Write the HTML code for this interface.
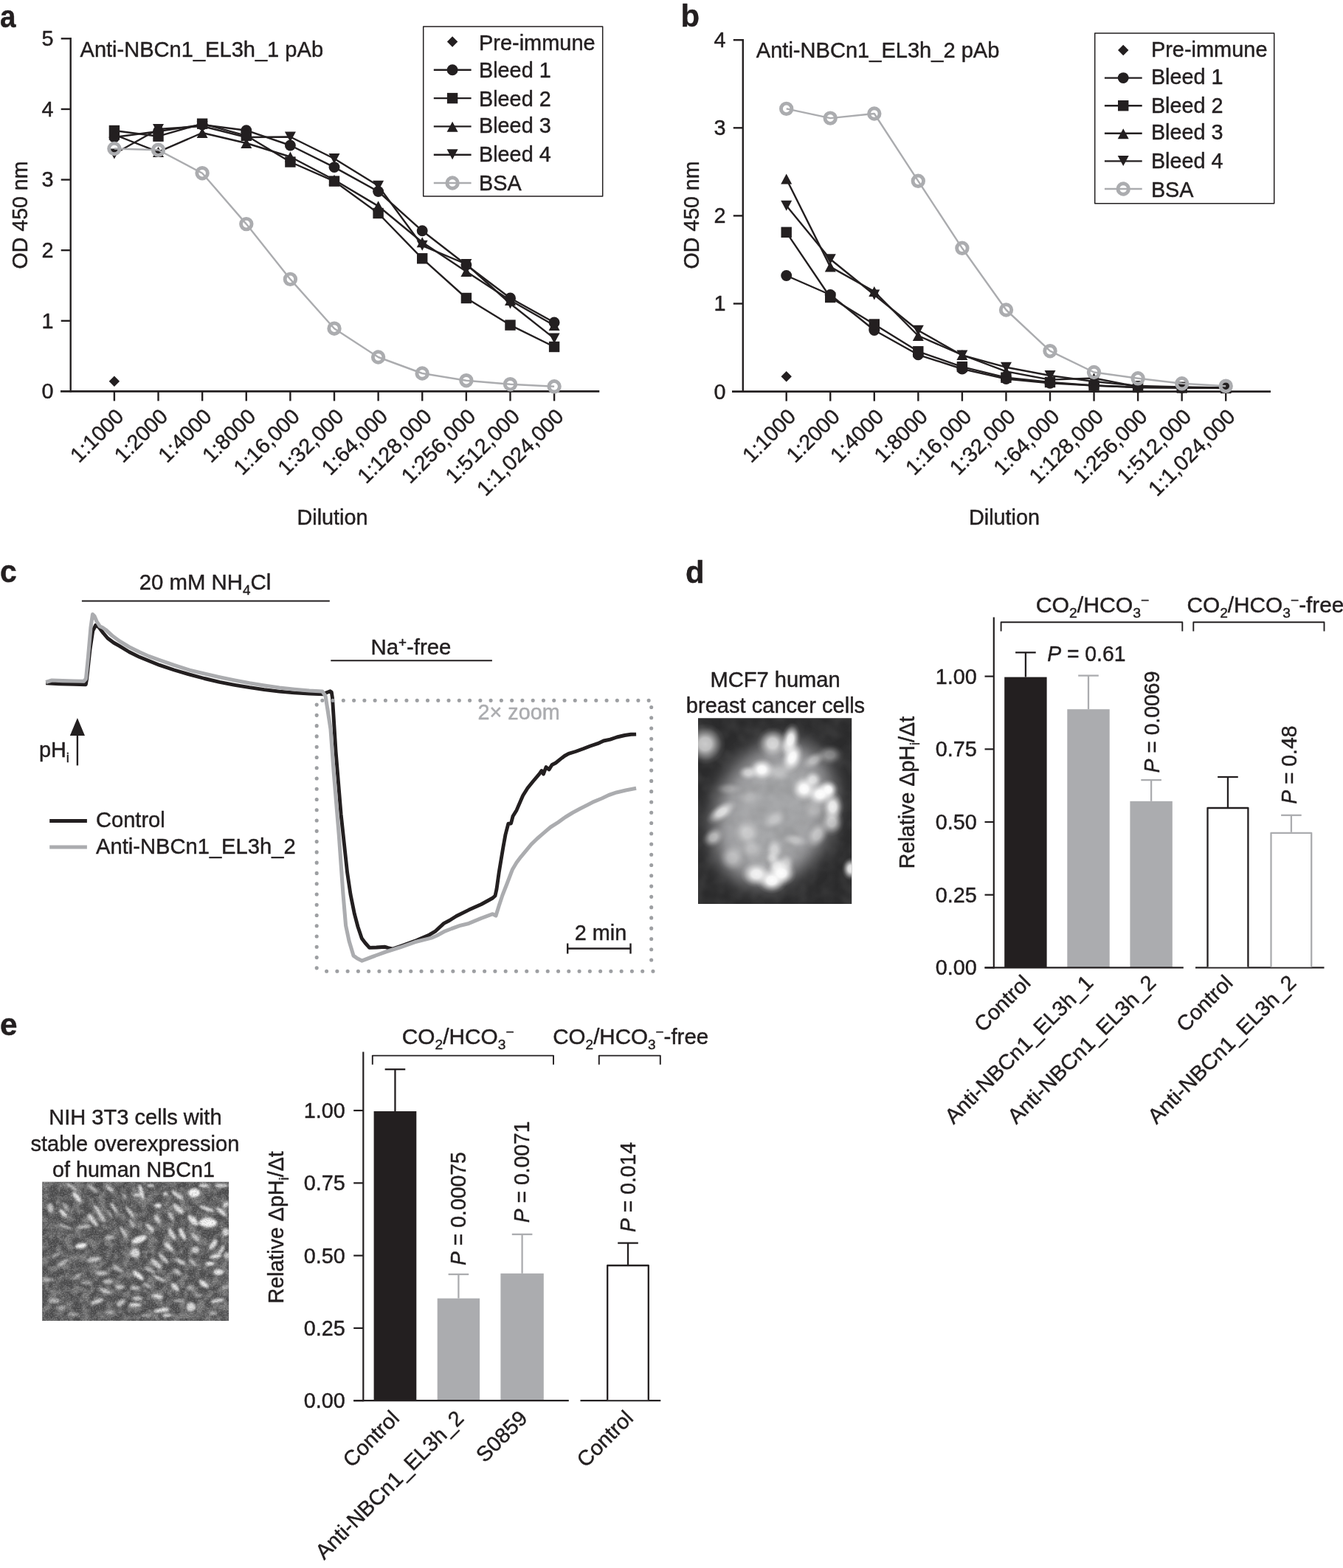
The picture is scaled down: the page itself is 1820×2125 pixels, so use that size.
<!DOCTYPE html>
<html lang="en"><head><meta charset="utf-8"><title>Figure</title>
<style>html,body{margin:0;padding:0;background:#fff}svg{display:block}</style></head>
<body>
<svg width="1820" height="2125" viewBox="0 0 1820 2125" font-family='"Liberation Sans", "DejaVu Sans", sans-serif' fill="#231f20" stroke-linejoin="round">
<style>text{stroke:#231f20;stroke-width:0.45px}</style>
<rect width="1820" height="2125" fill="#fff"/>
<text x="0.00" y="36.60" font-size="43.2" textLength="21.50" lengthAdjust="spacingAndGlyphs" font-weight="bold">a</text>
<text x="922.50" y="35.90" font-size="43.2" textLength="25.60" lengthAdjust="spacingAndGlyphs" font-weight="bold">b</text>
<text x="0.00" y="789.00" font-size="43.2" textLength="22.82" lengthAdjust="spacingAndGlyphs" font-weight="bold">c</text>
<text x="929.00" y="789.80" font-size="43.2" textLength="25.60" lengthAdjust="spacingAndGlyphs" font-weight="bold">d</text>
<text x="0.00" y="1403.00" font-size="43.2" textLength="23.55" lengthAdjust="spacingAndGlyphs" font-weight="bold">e</text>
<line x1="95.70" y1="51.10" x2="95.70" y2="531.60" stroke="#231f20" stroke-width="2.4" />
<line x1="82.00" y1="530.40" x2="812.30" y2="530.40" stroke="#231f20" stroke-width="2.6" />
<text x="72.50" y="540.30" font-size="28.8" text-anchor="end">0</text>
<line x1="82.70" y1="434.78" x2="95.70" y2="434.78" stroke="#231f20" stroke-width="2.4" />
<text x="72.50" y="444.68" font-size="28.8" text-anchor="end">1</text>
<line x1="82.70" y1="339.16" x2="95.70" y2="339.16" stroke="#231f20" stroke-width="2.4" />
<text x="72.50" y="349.06" font-size="28.8" text-anchor="end">2</text>
<line x1="82.70" y1="243.54" x2="95.70" y2="243.54" stroke="#231f20" stroke-width="2.4" />
<text x="72.50" y="253.44" font-size="28.8" text-anchor="end">3</text>
<line x1="82.70" y1="147.92" x2="95.70" y2="147.92" stroke="#231f20" stroke-width="2.4" />
<text x="72.50" y="157.82" font-size="28.8" text-anchor="end">4</text>
<line x1="82.70" y1="52.30" x2="95.70" y2="52.30" stroke="#231f20" stroke-width="2.4" />
<text x="72.50" y="62.20" font-size="28.8" text-anchor="end">5</text>
<line x1="154.90" y1="530.40" x2="154.90" y2="543.40" stroke="#231f20" stroke-width="2.4" />
<text x="169.40" y="566.10" font-size="28.8" text-anchor="end" transform="rotate(-45 169.40 566.10)" textLength="88.09" lengthAdjust="spacingAndGlyphs">1:1000</text>
<line x1="214.52" y1="530.40" x2="214.52" y2="543.40" stroke="#231f20" stroke-width="2.4" />
<text x="229.02" y="566.10" font-size="28.8" text-anchor="end" transform="rotate(-45 229.02 566.10)" textLength="88.09" lengthAdjust="spacingAndGlyphs">1:2000</text>
<line x1="274.14" y1="530.40" x2="274.14" y2="543.40" stroke="#231f20" stroke-width="2.4" />
<text x="288.64" y="566.10" font-size="28.8" text-anchor="end" transform="rotate(-45 288.64 566.10)" textLength="88.09" lengthAdjust="spacingAndGlyphs">1:4000</text>
<line x1="333.76" y1="530.40" x2="333.76" y2="543.40" stroke="#231f20" stroke-width="2.4" />
<text x="348.26" y="566.10" font-size="28.8" text-anchor="end" transform="rotate(-45 348.26 566.10)" textLength="88.09" lengthAdjust="spacingAndGlyphs">1:8000</text>
<line x1="393.38" y1="530.40" x2="393.38" y2="543.40" stroke="#231f20" stroke-width="2.4" />
<text x="407.88" y="566.10" font-size="28.8" text-anchor="end" transform="rotate(-45 407.88 566.10)" textLength="112.11" lengthAdjust="spacingAndGlyphs">1:16,000</text>
<line x1="453.00" y1="530.40" x2="453.00" y2="543.40" stroke="#231f20" stroke-width="2.4" />
<text x="467.50" y="566.10" font-size="28.8" text-anchor="end" transform="rotate(-45 467.50 566.10)" textLength="112.11" lengthAdjust="spacingAndGlyphs">1:32,000</text>
<line x1="512.62" y1="530.40" x2="512.62" y2="543.40" stroke="#231f20" stroke-width="2.4" />
<text x="527.12" y="566.10" font-size="28.8" text-anchor="end" transform="rotate(-45 527.12 566.10)" textLength="112.11" lengthAdjust="spacingAndGlyphs">1:64,000</text>
<line x1="572.24" y1="530.40" x2="572.24" y2="543.40" stroke="#231f20" stroke-width="2.4" />
<text x="586.74" y="566.10" font-size="28.8" text-anchor="end" transform="rotate(-45 586.74 566.10)" textLength="128.12" lengthAdjust="spacingAndGlyphs">1:128,000</text>
<line x1="631.86" y1="530.40" x2="631.86" y2="543.40" stroke="#231f20" stroke-width="2.4" />
<text x="646.36" y="566.10" font-size="28.8" text-anchor="end" transform="rotate(-45 646.36 566.10)" textLength="128.12" lengthAdjust="spacingAndGlyphs">1:256,000</text>
<line x1="691.48" y1="530.40" x2="691.48" y2="543.40" stroke="#231f20" stroke-width="2.4" />
<text x="705.98" y="566.10" font-size="28.8" text-anchor="end" transform="rotate(-45 705.98 566.10)" textLength="128.12" lengthAdjust="spacingAndGlyphs">1:512,000</text>
<line x1="751.10" y1="530.40" x2="751.10" y2="543.40" stroke="#231f20" stroke-width="2.4" />
<text x="765.60" y="566.10" font-size="28.8" text-anchor="end" transform="rotate(-45 765.60 566.10)" textLength="152.14" lengthAdjust="spacingAndGlyphs">1:1,024,000</text>
<text x="108.50" y="76.80" font-size="28.8" textLength="329.56" lengthAdjust="spacingAndGlyphs">Anti-NBCn1_EL3h_1 pAb</text>
<text x="37.30" y="291.50" font-size="28.8" text-anchor="middle" transform="rotate(-90 37.30 291.50)" textLength="146.00" lengthAdjust="spacingAndGlyphs">OD 450 nm</text>
<text x="450.50" y="711.00" font-size="28.8" text-anchor="middle" textLength="96.05" lengthAdjust="spacingAndGlyphs">Dilution</text>
<polygon points="154.9,509.5 162.1,516.7 154.9,523.9 147.7,516.7" fill="#231f20"/>
<polyline points="154.9,186.0 214.5,178.0 274.1,169.0 333.8,176.7 393.4,197.0 453.0,226.6 512.6,259.5 572.2,312.8 631.9,359.0 691.5,404.0 751.1,437.0" fill="none" stroke="#231f20" stroke-width="2.4" stroke-linejoin="round"/>
<circle cx="154.9" cy="186.0" r="7.45" fill="#231f20"/>
<circle cx="214.5" cy="178.0" r="7.45" fill="#231f20"/>
<circle cx="274.1" cy="169.0" r="7.45" fill="#231f20"/>
<circle cx="333.8" cy="176.7" r="7.45" fill="#231f20"/>
<circle cx="393.4" cy="197.0" r="7.45" fill="#231f20"/>
<circle cx="453.0" cy="226.6" r="7.45" fill="#231f20"/>
<circle cx="512.6" cy="259.5" r="7.45" fill="#231f20"/>
<circle cx="572.2" cy="312.8" r="7.45" fill="#231f20"/>
<circle cx="631.9" cy="359.0" r="7.45" fill="#231f20"/>
<circle cx="691.5" cy="404.0" r="7.45" fill="#231f20"/>
<circle cx="751.1" cy="437.0" r="7.45" fill="#231f20"/>
<polyline points="154.9,177.0 214.5,184.7 274.1,167.7 333.8,183.8 393.4,219.5 453.0,245.6 512.6,289.0 572.2,350.3 631.9,404.0 691.5,440.6 751.1,470.0" fill="none" stroke="#231f20" stroke-width="2.4" stroke-linejoin="round"/>
<rect x="147.7" y="169.8" width="14.4" height="14.4" fill="#231f20"/>
<rect x="207.3" y="177.5" width="14.4" height="14.4" fill="#231f20"/>
<rect x="266.9" y="160.5" width="14.4" height="14.4" fill="#231f20"/>
<rect x="326.6" y="176.6" width="14.4" height="14.4" fill="#231f20"/>
<rect x="386.2" y="212.3" width="14.4" height="14.4" fill="#231f20"/>
<rect x="445.8" y="238.4" width="14.4" height="14.4" fill="#231f20"/>
<rect x="505.4" y="281.8" width="14.4" height="14.4" fill="#231f20"/>
<rect x="565.0" y="343.1" width="14.4" height="14.4" fill="#231f20"/>
<rect x="624.7" y="396.8" width="14.4" height="14.4" fill="#231f20"/>
<rect x="684.3" y="433.4" width="14.4" height="14.4" fill="#231f20"/>
<rect x="743.9" y="462.8" width="14.4" height="14.4" fill="#231f20"/>
<polyline points="154.9,182.5 214.5,205.9 274.1,180.0 333.8,194.0 393.4,212.5 453.0,243.8 512.6,279.3 572.2,328.2 631.9,368.0 691.5,407.0 751.1,441.0" fill="none" stroke="#231f20" stroke-width="2.4" stroke-linejoin="round"/>
<polygon points="154.9,175.5 162.4,189.5 147.4,189.5" fill="#231f20"/>
<polygon points="214.5,198.9 222.0,212.9 207.0,212.9" fill="#231f20"/>
<polygon points="274.1,173.0 281.6,187.0 266.6,187.0" fill="#231f20"/>
<polygon points="333.8,187.0 341.3,201.0 326.3,201.0" fill="#231f20"/>
<polygon points="393.4,205.5 400.9,219.5 385.9,219.5" fill="#231f20"/>
<polygon points="453.0,236.8 460.5,250.8 445.5,250.8" fill="#231f20"/>
<polygon points="512.6,272.3 520.1,286.3 505.1,286.3" fill="#231f20"/>
<polygon points="572.2,321.2 579.7,335.2 564.7,335.2" fill="#231f20"/>
<polygon points="631.9,361.0 639.4,375.0 624.4,375.0" fill="#231f20"/>
<polygon points="691.5,400.0 699.0,414.0 684.0,414.0" fill="#231f20"/>
<polygon points="751.1,434.0 758.6,448.0 743.6,448.0" fill="#231f20"/>
<polyline points="154.9,208.5 214.5,175.0 274.1,171.0 333.8,186.0 393.4,185.5 453.0,215.0 512.6,251.8 572.2,332.8 631.9,358.0 691.5,411.5 751.1,458.6" fill="none" stroke="#231f20" stroke-width="2.4" stroke-linejoin="round"/>
<polygon points="154.9,215.5 162.4,201.5 147.4,201.5" fill="#231f20"/>
<polygon points="214.5,182.0 222.0,168.0 207.0,168.0" fill="#231f20"/>
<polygon points="274.1,178.0 281.6,164.0 266.6,164.0" fill="#231f20"/>
<polygon points="333.8,193.0 341.3,179.0 326.3,179.0" fill="#231f20"/>
<polygon points="393.4,192.5 400.9,178.5 385.9,178.5" fill="#231f20"/>
<polygon points="453.0,222.0 460.5,208.0 445.5,208.0" fill="#231f20"/>
<polygon points="512.6,258.8 520.1,244.8 505.1,244.8" fill="#231f20"/>
<polygon points="572.2,339.8 579.7,325.8 564.7,325.8" fill="#231f20"/>
<polygon points="631.9,365.0 639.4,351.0 624.4,351.0" fill="#231f20"/>
<polygon points="691.5,418.5 699.0,404.5 684.0,404.5" fill="#231f20"/>
<polygon points="751.1,465.6 758.6,451.6 743.6,451.6" fill="#231f20"/>
<polyline points="154.9,201.5 214.5,203.2 274.1,234.7 333.8,303.6 393.4,378.4 453.0,445.2 512.6,484.0 572.2,506.0 631.9,515.7 691.5,520.7 751.1,523.8" fill="none" stroke="#abacaf" stroke-width="2.4" stroke-linejoin="round"/>
<circle cx="154.9" cy="201.5" r="7.25" fill="none" stroke="#abacaf" stroke-width="4.9"/>
<circle cx="214.5" cy="203.2" r="7.25" fill="none" stroke="#abacaf" stroke-width="4.9"/>
<circle cx="274.1" cy="234.7" r="7.25" fill="none" stroke="#abacaf" stroke-width="4.9"/>
<circle cx="333.8" cy="303.6" r="7.25" fill="none" stroke="#abacaf" stroke-width="4.9"/>
<circle cx="393.4" cy="378.4" r="7.25" fill="none" stroke="#abacaf" stroke-width="4.9"/>
<circle cx="453.0" cy="445.2" r="7.25" fill="none" stroke="#abacaf" stroke-width="4.9"/>
<circle cx="512.6" cy="484.0" r="7.25" fill="none" stroke="#abacaf" stroke-width="4.9"/>
<circle cx="572.2" cy="506.0" r="7.25" fill="none" stroke="#abacaf" stroke-width="4.9"/>
<circle cx="631.9" cy="515.7" r="7.25" fill="none" stroke="#abacaf" stroke-width="4.9"/>
<circle cx="691.5" cy="520.7" r="7.25" fill="none" stroke="#abacaf" stroke-width="4.9"/>
<circle cx="751.1" cy="523.8" r="7.25" fill="none" stroke="#abacaf" stroke-width="4.9"/>
<rect x="573.70" y="35.90" width="243.00" height="230.20" fill="none" stroke="#231f20" stroke-width="1.5"/>
<polygon points="613.1,49.3 620.3,56.5 613.1,63.7 605.9,56.5" fill="#231f20"/>
<text x="649.00" y="67.90" font-size="28.8" textLength="157.62" lengthAdjust="spacingAndGlyphs">Pre-immune</text>
<line x1="587.80" y1="94.80" x2="638.60" y2="94.80" stroke="#231f20" stroke-width="2.4" />
<circle cx="613.1" cy="94.8" r="7.45" fill="#231f20"/>
<text x="649.00" y="104.70" font-size="28.8" textLength="97.68" lengthAdjust="spacingAndGlyphs">Bleed 1</text>
<line x1="587.80" y1="133.10" x2="638.60" y2="133.10" stroke="#231f20" stroke-width="2.4" />
<rect x="605.9" y="125.9" width="14.4" height="14.4" fill="#231f20"/>
<text x="649.00" y="143.50" font-size="28.8" textLength="97.68" lengthAdjust="spacingAndGlyphs">Bleed 2</text>
<line x1="587.80" y1="171.40" x2="638.60" y2="171.40" stroke="#231f20" stroke-width="2.4" />
<polygon points="613.1,164.8 620.6,178.8 605.6,178.8" fill="#231f20"/>
<text x="649.00" y="179.70" font-size="28.8" textLength="97.68" lengthAdjust="spacingAndGlyphs">Bleed 3</text>
<line x1="587.80" y1="209.70" x2="638.60" y2="209.70" stroke="#231f20" stroke-width="2.4" />
<polygon points="613.1,216.3 620.6,202.3 605.6,202.3" fill="#231f20"/>
<text x="649.00" y="218.50" font-size="28.8" textLength="97.68" lengthAdjust="spacingAndGlyphs">Bleed 4</text>
<line x1="587.80" y1="248.00" x2="638.60" y2="248.00" stroke="#abacaf" stroke-width="2.4" />
<circle cx="613.1" cy="248.0" r="7.25" fill="none" stroke="#abacaf" stroke-width="4.9"/>
<text x="649.00" y="257.60" font-size="28.8" textLength="57.63" lengthAdjust="spacingAndGlyphs">BSA</text>
<line x1="1006.80" y1="53.00" x2="1006.80" y2="531.80" stroke="#231f20" stroke-width="2.4" />
<line x1="992.00" y1="530.60" x2="1722.00" y2="530.60" stroke="#231f20" stroke-width="2.6" />
<text x="983.60" y="540.50" font-size="28.8" text-anchor="end">0</text>
<line x1="993.80" y1="411.50" x2="1006.80" y2="411.50" stroke="#231f20" stroke-width="2.4" />
<text x="983.60" y="421.40" font-size="28.8" text-anchor="end">1</text>
<line x1="993.80" y1="292.40" x2="1006.80" y2="292.40" stroke="#231f20" stroke-width="2.4" />
<text x="983.60" y="302.30" font-size="28.8" text-anchor="end">2</text>
<line x1="993.80" y1="173.30" x2="1006.80" y2="173.30" stroke="#231f20" stroke-width="2.4" />
<text x="983.60" y="183.20" font-size="28.8" text-anchor="end">3</text>
<line x1="993.80" y1="54.20" x2="1006.80" y2="54.20" stroke="#231f20" stroke-width="2.4" />
<text x="983.60" y="64.10" font-size="28.8" text-anchor="end">4</text>
<line x1="1065.70" y1="530.60" x2="1065.70" y2="543.60" stroke="#231f20" stroke-width="2.4" />
<text x="1080.20" y="566.30" font-size="28.8" text-anchor="end" transform="rotate(-45 1080.20 566.30)" textLength="88.09" lengthAdjust="spacingAndGlyphs">1:1000</text>
<line x1="1125.25" y1="530.60" x2="1125.25" y2="543.60" stroke="#231f20" stroke-width="2.4" />
<text x="1139.75" y="566.30" font-size="28.8" text-anchor="end" transform="rotate(-45 1139.75 566.30)" textLength="88.09" lengthAdjust="spacingAndGlyphs">1:2000</text>
<line x1="1184.80" y1="530.60" x2="1184.80" y2="543.60" stroke="#231f20" stroke-width="2.4" />
<text x="1199.30" y="566.30" font-size="28.8" text-anchor="end" transform="rotate(-45 1199.30 566.30)" textLength="88.09" lengthAdjust="spacingAndGlyphs">1:4000</text>
<line x1="1244.35" y1="530.60" x2="1244.35" y2="543.60" stroke="#231f20" stroke-width="2.4" />
<text x="1258.85" y="566.30" font-size="28.8" text-anchor="end" transform="rotate(-45 1258.85 566.30)" textLength="88.09" lengthAdjust="spacingAndGlyphs">1:8000</text>
<line x1="1303.90" y1="530.60" x2="1303.90" y2="543.60" stroke="#231f20" stroke-width="2.4" />
<text x="1318.40" y="566.30" font-size="28.8" text-anchor="end" transform="rotate(-45 1318.40 566.30)" textLength="112.11" lengthAdjust="spacingAndGlyphs">1:16,000</text>
<line x1="1363.45" y1="530.60" x2="1363.45" y2="543.60" stroke="#231f20" stroke-width="2.4" />
<text x="1377.95" y="566.30" font-size="28.8" text-anchor="end" transform="rotate(-45 1377.95 566.30)" textLength="112.11" lengthAdjust="spacingAndGlyphs">1:32,000</text>
<line x1="1423.00" y1="530.60" x2="1423.00" y2="543.60" stroke="#231f20" stroke-width="2.4" />
<text x="1437.50" y="566.30" font-size="28.8" text-anchor="end" transform="rotate(-45 1437.50 566.30)" textLength="112.11" lengthAdjust="spacingAndGlyphs">1:64,000</text>
<line x1="1482.55" y1="530.60" x2="1482.55" y2="543.60" stroke="#231f20" stroke-width="2.4" />
<text x="1497.05" y="566.30" font-size="28.8" text-anchor="end" transform="rotate(-45 1497.05 566.30)" textLength="128.12" lengthAdjust="spacingAndGlyphs">1:128,000</text>
<line x1="1542.10" y1="530.60" x2="1542.10" y2="543.60" stroke="#231f20" stroke-width="2.4" />
<text x="1556.60" y="566.30" font-size="28.8" text-anchor="end" transform="rotate(-45 1556.60 566.30)" textLength="128.12" lengthAdjust="spacingAndGlyphs">1:256,000</text>
<line x1="1601.65" y1="530.60" x2="1601.65" y2="543.60" stroke="#231f20" stroke-width="2.4" />
<text x="1616.15" y="566.30" font-size="28.8" text-anchor="end" transform="rotate(-45 1616.15 566.30)" textLength="128.12" lengthAdjust="spacingAndGlyphs">1:512,000</text>
<line x1="1661.20" y1="530.60" x2="1661.20" y2="543.60" stroke="#231f20" stroke-width="2.4" />
<text x="1675.70" y="566.30" font-size="28.8" text-anchor="end" transform="rotate(-45 1675.70 566.30)" textLength="152.14" lengthAdjust="spacingAndGlyphs">1:1,024,000</text>
<text x="1024.80" y="78.00" font-size="28.8" textLength="329.56" lengthAdjust="spacingAndGlyphs">Anti-NBCn1_EL3h_2 pAb</text>
<text x="947.30" y="291.50" font-size="28.8" text-anchor="middle" transform="rotate(-90 947.30 291.50)" textLength="146.00" lengthAdjust="spacingAndGlyphs">OD 450 nm</text>
<text x="1361.00" y="711.00" font-size="28.8" text-anchor="middle" textLength="96.05" lengthAdjust="spacingAndGlyphs">Dilution</text>
<polygon points="1065.7,503.0 1072.9,510.2 1065.7,517.4 1058.5,510.2" fill="#231f20"/>
<polyline points="1065.7,373.5 1125.2,399.5 1184.8,447.5 1244.3,480.8 1303.9,500.0 1363.5,513.5 1423.0,519.2 1482.5,522.5 1542.1,525.0 1601.7,525.5 1661.2,525.8" fill="none" stroke="#231f20" stroke-width="2.4" stroke-linejoin="round"/>
<circle cx="1065.7" cy="373.5" r="7.45" fill="#231f20"/>
<circle cx="1125.2" cy="399.5" r="7.45" fill="#231f20"/>
<circle cx="1184.8" cy="447.5" r="7.45" fill="#231f20"/>
<circle cx="1244.3" cy="480.8" r="7.45" fill="#231f20"/>
<circle cx="1303.9" cy="500.0" r="7.45" fill="#231f20"/>
<circle cx="1363.5" cy="513.5" r="7.45" fill="#231f20"/>
<circle cx="1423.0" cy="519.2" r="7.45" fill="#231f20"/>
<circle cx="1482.5" cy="522.5" r="7.45" fill="#231f20"/>
<circle cx="1542.1" cy="525.0" r="7.45" fill="#231f20"/>
<circle cx="1601.7" cy="525.5" r="7.45" fill="#231f20"/>
<circle cx="1661.2" cy="525.8" r="7.45" fill="#231f20"/>
<polyline points="1065.7,314.8 1125.2,403.0 1184.8,439.5 1244.3,476.3 1303.9,497.1 1363.5,511.7 1423.0,518.0 1482.5,522.5 1542.1,525.0 1601.7,525.5 1661.2,526.0" fill="none" stroke="#231f20" stroke-width="2.4" stroke-linejoin="round"/>
<rect x="1058.5" y="307.6" width="14.4" height="14.4" fill="#231f20"/>
<rect x="1118.0" y="395.8" width="14.4" height="14.4" fill="#231f20"/>
<rect x="1177.6" y="432.3" width="14.4" height="14.4" fill="#231f20"/>
<rect x="1237.1" y="469.1" width="14.4" height="14.4" fill="#231f20"/>
<rect x="1296.7" y="489.9" width="14.4" height="14.4" fill="#231f20"/>
<rect x="1356.2" y="504.5" width="14.4" height="14.4" fill="#231f20"/>
<rect x="1415.8" y="510.8" width="14.4" height="14.4" fill="#231f20"/>
<rect x="1475.3" y="515.3" width="14.4" height="14.4" fill="#231f20"/>
<rect x="1534.9" y="517.8" width="14.4" height="14.4" fill="#231f20"/>
<rect x="1594.5" y="518.3" width="14.4" height="14.4" fill="#231f20"/>
<rect x="1654.0" y="518.8" width="14.4" height="14.4" fill="#231f20"/>
<polyline points="1065.7,242.5 1125.2,361.6 1184.8,395.0 1244.3,455.0 1303.9,481.0 1363.5,503.4 1423.0,514.6 1482.5,512.5 1542.1,524.0 1601.7,525.0 1661.2,526.0" fill="none" stroke="#231f20" stroke-width="2.4" stroke-linejoin="round"/>
<polygon points="1065.7,235.5 1073.2,249.5 1058.2,249.5" fill="#231f20"/>
<polygon points="1125.2,354.6 1132.8,368.6 1117.8,368.6" fill="#231f20"/>
<polygon points="1184.8,388.0 1192.3,402.0 1177.3,402.0" fill="#231f20"/>
<polygon points="1244.3,448.0 1251.8,462.0 1236.8,462.0" fill="#231f20"/>
<polygon points="1303.9,474.0 1311.4,488.0 1296.4,488.0" fill="#231f20"/>
<polygon points="1363.5,496.4 1371.0,510.4 1356.0,510.4" fill="#231f20"/>
<polygon points="1423.0,507.6 1430.5,521.6 1415.5,521.6" fill="#231f20"/>
<polygon points="1482.5,505.5 1490.0,519.5 1475.0,519.5" fill="#231f20"/>
<polygon points="1542.1,517.0 1549.6,531.0 1534.6,531.0" fill="#231f20"/>
<polygon points="1601.7,518.0 1609.2,532.0 1594.2,532.0" fill="#231f20"/>
<polygon points="1661.2,519.0 1668.7,533.0 1653.7,533.0" fill="#231f20"/>
<polyline points="1065.7,278.7 1125.2,351.2 1184.8,399.5 1244.3,447.7 1303.9,481.5 1363.5,497.7 1423.0,509.0 1482.5,517.0 1542.1,523.0 1601.7,524.5 1661.2,525.5" fill="none" stroke="#231f20" stroke-width="2.4" stroke-linejoin="round"/>
<polygon points="1065.7,285.7 1073.2,271.7 1058.2,271.7" fill="#231f20"/>
<polygon points="1125.2,358.2 1132.8,344.2 1117.8,344.2" fill="#231f20"/>
<polygon points="1184.8,406.5 1192.3,392.5 1177.3,392.5" fill="#231f20"/>
<polygon points="1244.3,454.7 1251.8,440.7 1236.8,440.7" fill="#231f20"/>
<polygon points="1303.9,488.5 1311.4,474.5 1296.4,474.5" fill="#231f20"/>
<polygon points="1363.5,504.7 1371.0,490.7 1356.0,490.7" fill="#231f20"/>
<polygon points="1423.0,516.0 1430.5,502.0 1415.5,502.0" fill="#231f20"/>
<polygon points="1482.5,524.0 1490.0,510.0 1475.0,510.0" fill="#231f20"/>
<polygon points="1542.1,530.0 1549.6,516.0 1534.6,516.0" fill="#231f20"/>
<polygon points="1601.7,531.5 1609.2,517.5 1594.2,517.5" fill="#231f20"/>
<polygon points="1661.2,532.5 1668.7,518.5 1653.7,518.5" fill="#231f20"/>
<polyline points="1065.7,147.4 1125.2,160.1 1184.8,154.0 1244.3,245.3 1303.9,336.3 1363.5,420.0 1423.0,475.7 1482.5,504.5 1542.1,512.8 1601.7,519.8 1661.2,523.2" fill="none" stroke="#abacaf" stroke-width="2.4" stroke-linejoin="round"/>
<circle cx="1065.7" cy="147.4" r="7.25" fill="none" stroke="#abacaf" stroke-width="4.9"/>
<circle cx="1125.2" cy="160.1" r="7.25" fill="none" stroke="#abacaf" stroke-width="4.9"/>
<circle cx="1184.8" cy="154.0" r="7.25" fill="none" stroke="#abacaf" stroke-width="4.9"/>
<circle cx="1244.3" cy="245.3" r="7.25" fill="none" stroke="#abacaf" stroke-width="4.9"/>
<circle cx="1303.9" cy="336.3" r="7.25" fill="none" stroke="#abacaf" stroke-width="4.9"/>
<circle cx="1363.5" cy="420.0" r="7.25" fill="none" stroke="#abacaf" stroke-width="4.9"/>
<circle cx="1423.0" cy="475.7" r="7.25" fill="none" stroke="#abacaf" stroke-width="4.9"/>
<circle cx="1482.5" cy="504.5" r="7.25" fill="none" stroke="#abacaf" stroke-width="4.9"/>
<circle cx="1542.1" cy="512.8" r="7.25" fill="none" stroke="#abacaf" stroke-width="4.9"/>
<circle cx="1601.7" cy="519.8" r="7.25" fill="none" stroke="#abacaf" stroke-width="4.9"/>
<circle cx="1661.2" cy="523.2" r="7.25" fill="none" stroke="#abacaf" stroke-width="4.9"/>
<rect x="1483.70" y="45.10" width="243.00" height="230.70" fill="none" stroke="#231f20" stroke-width="1.5"/>
<polygon points="1522.2,60.8 1529.4,68.0 1522.2,75.2 1515.0,68.0" fill="#231f20"/>
<text x="1559.90" y="77.10" font-size="28.8" textLength="157.62" lengthAdjust="spacingAndGlyphs">Pre-immune</text>
<line x1="1496.90" y1="105.60" x2="1547.70" y2="105.60" stroke="#231f20" stroke-width="2.4" />
<circle cx="1522.2" cy="105.6" r="7.45" fill="#231f20"/>
<text x="1559.90" y="114.10" font-size="28.8" textLength="97.68" lengthAdjust="spacingAndGlyphs">Bleed 1</text>
<line x1="1496.90" y1="143.20" x2="1547.70" y2="143.20" stroke="#231f20" stroke-width="2.4" />
<rect x="1515.0" y="136.0" width="14.4" height="14.4" fill="#231f20"/>
<text x="1559.90" y="152.70" font-size="28.8" textLength="97.68" lengthAdjust="spacingAndGlyphs">Bleed 2</text>
<line x1="1496.90" y1="180.80" x2="1547.70" y2="180.80" stroke="#231f20" stroke-width="2.4" />
<polygon points="1522.2,174.2 1529.7,188.2 1514.7,188.2" fill="#231f20"/>
<text x="1559.90" y="188.90" font-size="28.8" textLength="97.68" lengthAdjust="spacingAndGlyphs">Bleed 3</text>
<line x1="1496.90" y1="218.40" x2="1547.70" y2="218.40" stroke="#231f20" stroke-width="2.4" />
<polygon points="1522.2,225.0 1529.7,211.0 1514.7,211.0" fill="#231f20"/>
<text x="1559.90" y="227.70" font-size="28.8" textLength="97.68" lengthAdjust="spacingAndGlyphs">Bleed 4</text>
<line x1="1496.90" y1="256.00" x2="1547.70" y2="256.00" stroke="#abacaf" stroke-width="2.4" />
<circle cx="1522.2" cy="256.0" r="7.25" fill="none" stroke="#abacaf" stroke-width="4.9"/>
<text x="1559.90" y="266.80" font-size="28.8" textLength="57.63" lengthAdjust="spacingAndGlyphs">BSA</text>
<text x="188.70" y="798.70" font-size="28.8" textLength="178.50" lengthAdjust="spacingAndGlyphs">20 mM NH<tspan font-size="18.5" dy="7">4</tspan><tspan dy="-7">Cl</tspan></text>
<line x1="110.90" y1="814.40" x2="446.80" y2="814.40" stroke="#231f20" stroke-width="2.0" />
<text x="502.50" y="886.80" font-size="28.8" textLength="108.90" lengthAdjust="spacingAndGlyphs">Na<tspan font-size="18.5" dy="-9.5">+</tspan><tspan dy="9.5">-free</tspan></text>
<line x1="448.30" y1="895.20" x2="666.90" y2="895.20" stroke="#231f20" stroke-width="2.0" />
<text x="647.50" y="975.40" font-size="28.8" fill="#abacaf" style="stroke:#abacaf" textLength="111.20" lengthAdjust="spacingAndGlyphs">2× zoom</text>
<text x="52.90" y="1026.30" font-size="28.8">pH<tspan font-size="18.5" dy="7">i</tspan></text>
<line x1="104.90" y1="1037.40" x2="104.90" y2="995.00" stroke="#231f20" stroke-width="2.4" />
<polygon points="104.9,973 115,997 94.8,997" fill="#231f20"/>
<line x1="67.20" y1="1112.40" x2="117.90" y2="1112.40" stroke="#231f20" stroke-width="5.0" />
<text x="130.00" y="1120.80" font-size="28.8" textLength="93.77" lengthAdjust="spacingAndGlyphs">Control</text>
<line x1="67.20" y1="1147.90" x2="117.90" y2="1147.90" stroke="#abacaf" stroke-width="5.0" />
<text x="130.00" y="1156.70" font-size="28.8" textLength="270.60" lengthAdjust="spacingAndGlyphs">Anti-NBCn1_EL3h_2</text>
<line x1="769.20" y1="1285.50" x2="854.50" y2="1285.50" stroke="#231f20" stroke-width="2.4" />
<line x1="769.20" y1="1278.50" x2="769.20" y2="1292.50" stroke="#231f20" stroke-width="2.4" />
<line x1="854.50" y1="1278.50" x2="854.50" y2="1292.50" stroke="#231f20" stroke-width="2.4" />
<text x="814.00" y="1274.00" font-size="28.8" text-anchor="middle" textLength="70.43" lengthAdjust="spacingAndGlyphs">2 min</text>
<polyline points="62.2,925.8 80.0,926.8 100.0,927.3 116.3,927.7 117.6,920.0 122.0,880.0 125.8,855.0 129.6,847.3 134.0,850.0 140.0,858.0 146.0,865.0 154.0,871.0 162.2,875.7 175.0,883.5 189.3,890.6 216.3,901.4 236.0,908.0 256.9,914.1 277.0,919.5 297.5,924.4 318.0,928.3 338.0,931.7 358.0,934.6 378.6,937.1 399.0,938.9 419.1,940.1 438.0,940.7 443.0,938.5 447.5,936.8 449.3,938.0 450.5,946.0 455.1,1019.0 462.1,1103.5 470.6,1182.4 475.0,1212.0 480.4,1238.7 485.0,1256.0 490.3,1271.7 495.0,1278.0 500.7,1284.4 510.0,1284.0 521.3,1283.2 526.0,1284.6 531.7,1286.0 545.0,1281.5 562.1,1275.4 581.8,1266.9 590.3,1261.8 601.5,1251.4 609.0,1247.5 618.5,1241.5 635.4,1233.1 652.3,1225.5 667.7,1217.0 671.0,1214.0 673.0,1205.0 676.2,1182.4 681.8,1148.6 685.0,1131.0 688.9,1116.2 692.5,1116.0 695.0,1106.3 700.1,1097.9 708.6,1078.2 715.0,1068.0 722.7,1058.5 731.1,1048.6 734.0,1044.5 736.5,1049.0 740.0,1039.5 744.0,1043.0 748.0,1036.5 753.0,1034.0 759.3,1028.9 765.0,1024.5 770.6,1021.3 780.0,1018.5 790.3,1014.8 800.0,1011.0 810.0,1007.7 818.0,1004.0 826.9,1002.1 836.0,999.0 846.6,996.5 855.0,995.3 862.1,995.1" fill="none" stroke="#231f20" stroke-width="4.9" stroke-linejoin="round"/>
<polyline points="62.2,924.5 70.3,922.0 85.0,922.6 100.0,923.0 113.6,923.2 116.5,920.0 119.5,890.0 123.0,850.0 125.5,832.5 128.0,835.0 131.0,842.0 135.2,848.7 139.0,850.5 143.3,853.5 152.0,861.5 162.2,869.0 175.0,876.8 189.3,883.9 202.0,889.5 216.3,894.7 236.0,901.5 256.9,908.2 277.0,913.0 297.5,917.7 318.0,922.0 338.0,925.8 358.0,929.0 378.6,932.0 399.0,934.2 419.1,936.0 436.8,937.0 441.0,943.0 444.0,962.0 448.0,988.0 452.3,1047.2 459.3,1131.7 464.9,1210.6 468.6,1254.2 473.0,1275.0 479.0,1295.1 484.0,1298.8 490.3,1302.1 505.0,1296.5 522.7,1290.0 542.4,1283.8 562.1,1276.8 584.6,1271.1 592.0,1268.0 601.5,1262.7 612.0,1258.5 624.1,1254.2 635.4,1251.4 652.3,1244.4 667.7,1238.7 672.0,1241.0 676.2,1227.5 681.0,1213.0 687.5,1196.5 694.5,1178.2 700.0,1169.0 705.8,1161.3 719.9,1144.4 728.0,1136.5 736.8,1128.9 746.0,1121.0 756.5,1114.4 766.0,1107.5 776.2,1101.3 786.0,1096.0 795.9,1091.0 805.0,1086.3 815.6,1082.0 825.0,1077.5 835.4,1073.9 848.0,1071.0 862.1,1068.3" fill="none" stroke="#abacaf" stroke-width="5.1" stroke-linejoin="round"/>
<path d="M436.8 949.2 H880" stroke="#9d9fa2" stroke-width="5.1" stroke-linecap="round" stroke-dasharray="0 14.27" fill="none"/>
<path d="M429.2 955.1 V1315" stroke="#9d9fa2" stroke-width="5.1" stroke-linecap="round" stroke-dasharray="0 14.27" fill="none"/>
<path d="M882.7 958.5 V1305" stroke="#9d9fa2" stroke-width="5.1" stroke-linecap="round" stroke-dasharray="0 14.27" fill="none"/>
<path d="M442.6 1316.2 H885" stroke="#9d9fa2" stroke-width="5.1" stroke-linecap="round" stroke-dasharray="0 14.27" fill="none"/>
<text x="1050.60" y="930.70" font-size="28.8" text-anchor="middle" textLength="176.30" lengthAdjust="spacingAndGlyphs">MCF7 human</text>
<text x="1051.00" y="966.00" font-size="28.8" text-anchor="middle" textLength="242.30" lengthAdjust="spacingAndGlyphs">breast cancer cells</text>
<line x1="1346.80" y1="836.50" x2="1346.80" y2="1312.50" stroke="#231f20" stroke-width="2.2" />
<line x1="1334.50" y1="1311.40" x2="1346.80" y2="1311.40" stroke="#231f20" stroke-width="2.2" />
<text x="1323.90" y="1321.30" font-size="28.8" text-anchor="end" textLength="56.05" lengthAdjust="spacingAndGlyphs">0.00</text>
<line x1="1334.50" y1="1212.70" x2="1346.80" y2="1212.70" stroke="#231f20" stroke-width="2.2" />
<text x="1323.90" y="1222.60" font-size="28.8" text-anchor="end" textLength="56.05" lengthAdjust="spacingAndGlyphs">0.25</text>
<line x1="1334.50" y1="1114.00" x2="1346.80" y2="1114.00" stroke="#231f20" stroke-width="2.2" />
<text x="1323.90" y="1123.90" font-size="28.8" text-anchor="end" textLength="56.05" lengthAdjust="spacingAndGlyphs">0.50</text>
<line x1="1334.50" y1="1015.30" x2="1346.80" y2="1015.30" stroke="#231f20" stroke-width="2.2" />
<text x="1323.90" y="1025.20" font-size="28.8" text-anchor="end" textLength="56.05" lengthAdjust="spacingAndGlyphs">0.75</text>
<line x1="1334.50" y1="916.60" x2="1346.80" y2="916.60" stroke="#231f20" stroke-width="2.2" />
<text x="1323.90" y="926.50" font-size="28.8" text-anchor="end" textLength="56.05" lengthAdjust="spacingAndGlyphs">1.00</text>
<line x1="1620.00" y1="1311.40" x2="1794.50" y2="1311.40" stroke="#231f20" stroke-width="2.3" />
<line x1="1389.90" y1="884.30" x2="1389.90" y2="917.60" stroke="#231f20" stroke-width="2.3" />
<line x1="1376.10" y1="884.30" x2="1403.70" y2="884.30" stroke="#231f20" stroke-width="2.3" />
<rect x="1361.20" y="917.60" width="57.40" height="393.80" fill="#231f20" stroke="none" stroke-width="0"/>
<line x1="1475.00" y1="915.60" x2="1475.00" y2="961.20" stroke="#abacaf" stroke-width="2.3" />
<line x1="1461.20" y1="915.60" x2="1488.80" y2="915.60" stroke="#abacaf" stroke-width="2.3" />
<rect x="1446.30" y="961.20" width="57.40" height="350.20" fill="#abacaf" stroke="none" stroke-width="0"/>
<line x1="1560.10" y1="1057.10" x2="1560.10" y2="1085.80" stroke="#abacaf" stroke-width="2.3" />
<line x1="1546.30" y1="1057.10" x2="1573.90" y2="1057.10" stroke="#abacaf" stroke-width="2.3" />
<rect x="1531.40" y="1085.80" width="57.40" height="225.60" fill="#abacaf" stroke="none" stroke-width="0"/>
<line x1="1663.95" y1="1053.00" x2="1663.95" y2="1094.00" stroke="#231f20" stroke-width="2.3" />
<line x1="1650.15" y1="1053.00" x2="1677.75" y2="1053.00" stroke="#231f20" stroke-width="2.3" />
<polyline points="1636.5,1310.4 1636.5,1095.0 1691.4,1095.0 1691.4,1310.4" fill="#fff" stroke="#231f20" stroke-width="2.3" />
<line x1="1749.90" y1="1104.80" x2="1749.90" y2="1127.80" stroke="#abacaf" stroke-width="2.3" />
<line x1="1736.10" y1="1104.80" x2="1763.70" y2="1104.80" stroke="#abacaf" stroke-width="2.3" />
<polyline points="1722.5,1310.4 1722.5,1128.8 1777.2,1128.8 1777.2,1310.4" fill="#fff" stroke="#abacaf" stroke-width="2.3" />
<line x1="1334.50" y1="1311.40" x2="1603.80" y2="1311.40" stroke="#231f20" stroke-width="2.3" />
<polyline points="1356.6,855.5 1356.6,843.3 1602.3,843.3 1602.3,855.5" fill="none" stroke="#231f20" stroke-width="1.9" />
<polyline points="1617.3,855.5 1617.3,843.3 1794.5,843.3 1794.5,855.5" fill="none" stroke="#231f20" stroke-width="1.9" />
<text x="1403.70" y="829.50" font-size="28.8" textLength="153.70" lengthAdjust="spacingAndGlyphs">CO<tspan font-size="18.5" dy="7">2</tspan><tspan dy="-7">/HCO</tspan><tspan font-size="18.5" dy="7">3</tspan><tspan font-size="18.5" dy="-16.5">−</tspan></text>
<text x="1608.50" y="829.50" font-size="28.8" textLength="212.90" lengthAdjust="spacingAndGlyphs">CO<tspan font-size="18.5" dy="7">2</tspan><tspan dy="-7">/HCO</tspan><tspan font-size="18.5" dy="7">3</tspan><tspan font-size="18.5" dy="-16.5">−</tspan><tspan dy="9.5">-free</tspan></text>
<text x="1419.20" y="896.20" font-size="28.8" textLength="106.27" lengthAdjust="spacingAndGlyphs"><tspan font-style="italic">P</tspan> = 0.61</text>
<text x="1570.50" y="1047.50" font-size="28.8" transform="rotate(-90 1570.50 1047.50)" textLength="137.92" lengthAdjust="spacingAndGlyphs"><tspan font-style="italic">P</tspan> = 0.0069</text>
<text x="1757.20" y="1089.80" font-size="28.8" transform="rotate(-90 1757.20 1089.80)" textLength="106.27" lengthAdjust="spacingAndGlyphs"><tspan font-style="italic">P</tspan> = 0.48</text>
<text x="1239.40" y="1074.00" font-size="28.8" text-anchor="middle" transform="rotate(-90 1239.40 1074.00)" textLength="206.30" lengthAdjust="spacingAndGlyphs">Relative ΔpH<tspan font-size="18.5" dy="7">i</tspan><tspan dy="-7">/Δt</tspan></text>
<text x="1398.25" y="1333.65" font-size="28.8" text-anchor="end" transform="rotate(-45 1398.25 1333.65)" textLength="93.77" lengthAdjust="spacingAndGlyphs">Control</text>
<text x="1483.25" y="1333.65" font-size="28.8" text-anchor="end" transform="rotate(-45 1483.25 1333.65)" textLength="270.05" lengthAdjust="spacingAndGlyphs">Anti-NBCn1_EL3h_1</text>
<text x="1568.25" y="1333.65" font-size="28.8" text-anchor="end" transform="rotate(-45 1568.25 1333.65)" textLength="270.05" lengthAdjust="spacingAndGlyphs">Anti-NBCn1_EL3h_2</text>
<text x="1672.25" y="1333.65" font-size="28.8" text-anchor="end" transform="rotate(-45 1672.25 1333.65)" textLength="93.77" lengthAdjust="spacingAndGlyphs">Control</text>
<text x="1758.25" y="1333.65" font-size="28.8" text-anchor="end" transform="rotate(-45 1758.25 1333.65)" textLength="270.05" lengthAdjust="spacingAndGlyphs">Anti-NBCn1_EL3h_2</text>
<text x="183.40" y="1524.20" font-size="28.8" text-anchor="middle" textLength="234.40" lengthAdjust="spacingAndGlyphs">NIH 3T3 cells with</text>
<text x="182.90" y="1559.60" font-size="28.8" text-anchor="middle" textLength="282.80" lengthAdjust="spacingAndGlyphs">stable overexpression</text>
<text x="181.00" y="1594.50" font-size="28.8" text-anchor="middle" textLength="219.80" lengthAdjust="spacingAndGlyphs">of human NBCn1</text>
<line x1="492.30" y1="1425.50" x2="492.30" y2="1899.30" stroke="#231f20" stroke-width="2.2" />
<line x1="479.20" y1="1898.20" x2="492.30" y2="1898.20" stroke="#231f20" stroke-width="2.2" />
<text x="467.70" y="1908.10" font-size="28.8" text-anchor="end" textLength="56.05" lengthAdjust="spacingAndGlyphs">0.00</text>
<line x1="479.20" y1="1799.90" x2="492.30" y2="1799.90" stroke="#231f20" stroke-width="2.2" />
<text x="467.70" y="1809.80" font-size="28.8" text-anchor="end" textLength="56.05" lengthAdjust="spacingAndGlyphs">0.25</text>
<line x1="479.20" y1="1701.60" x2="492.30" y2="1701.60" stroke="#231f20" stroke-width="2.2" />
<text x="467.70" y="1711.50" font-size="28.8" text-anchor="end" textLength="56.05" lengthAdjust="spacingAndGlyphs">0.50</text>
<line x1="479.20" y1="1603.30" x2="492.30" y2="1603.30" stroke="#231f20" stroke-width="2.2" />
<text x="467.70" y="1613.20" font-size="28.8" text-anchor="end" textLength="56.05" lengthAdjust="spacingAndGlyphs">0.75</text>
<line x1="479.20" y1="1505.00" x2="492.30" y2="1505.00" stroke="#231f20" stroke-width="2.2" />
<text x="467.70" y="1514.90" font-size="28.8" text-anchor="end" textLength="56.05" lengthAdjust="spacingAndGlyphs">1.00</text>
<line x1="786.50" y1="1898.20" x2="895.30" y2="1898.20" stroke="#231f20" stroke-width="2.3" />
<line x1="535.45" y1="1449.20" x2="535.45" y2="1506.00" stroke="#231f20" stroke-width="2.3" />
<line x1="521.65" y1="1449.20" x2="549.25" y2="1449.20" stroke="#231f20" stroke-width="2.3" />
<rect x="506.60" y="1506.00" width="57.70" height="392.20" fill="#231f20" stroke="none" stroke-width="0"/>
<line x1="621.40" y1="1727.00" x2="621.40" y2="1759.60" stroke="#abacaf" stroke-width="2.3" />
<line x1="607.60" y1="1727.00" x2="635.20" y2="1727.00" stroke="#abacaf" stroke-width="2.3" />
<rect x="592.70" y="1759.60" width="57.40" height="138.60" fill="#abacaf" stroke="none" stroke-width="0"/>
<line x1="707.60" y1="1672.80" x2="707.60" y2="1725.80" stroke="#abacaf" stroke-width="2.3" />
<line x1="693.80" y1="1672.80" x2="721.40" y2="1672.80" stroke="#abacaf" stroke-width="2.3" />
<rect x="678.40" y="1725.80" width="58.40" height="172.40" fill="#abacaf" stroke="none" stroke-width="0"/>
<line x1="851.00" y1="1684.60" x2="851.00" y2="1714.00" stroke="#231f20" stroke-width="2.3" />
<line x1="837.20" y1="1684.60" x2="864.80" y2="1684.60" stroke="#231f20" stroke-width="2.3" />
<polyline points="823.2,1897.2 823.2,1715.0 878.8,1715.0 878.8,1897.2" fill="#fff" stroke="#231f20" stroke-width="2.3" />
<line x1="479.20" y1="1898.20" x2="770.80" y2="1898.20" stroke="#231f20" stroke-width="2.3" />
<polyline points="504.8,1442.8 504.8,1430.6 750.0,1430.6 750.0,1442.8" fill="none" stroke="#231f20" stroke-width="1.9" />
<polyline points="811.8,1442.8 811.8,1430.6 894.8,1430.6 894.8,1442.8" fill="none" stroke="#231f20" stroke-width="1.9" />
<text x="544.80" y="1414.80" font-size="28.8" textLength="151.80" lengthAdjust="spacingAndGlyphs">CO<tspan font-size="18.5" dy="7">2</tspan><tspan dy="-7">/HCO</tspan><tspan font-size="18.5" dy="7">3</tspan><tspan font-size="18.5" dy="-16.5">−</tspan></text>
<text x="749.30" y="1414.80" font-size="28.8" textLength="211.00" lengthAdjust="spacingAndGlyphs">CO<tspan font-size="18.5" dy="7">2</tspan><tspan dy="-7">/HCO</tspan><tspan font-size="18.5" dy="7">3</tspan><tspan font-size="18.5" dy="-16.5">−</tspan><tspan dy="9.5">-free</tspan></text>
<text x="630.50" y="1715.00" font-size="28.8" transform="rotate(-90 630.50 1715.00)" textLength="153.75" lengthAdjust="spacingAndGlyphs"><tspan font-style="italic">P</tspan> = 0.00075</text>
<text x="717.00" y="1657.30" font-size="28.8" transform="rotate(-90 717.00 1657.30)" textLength="137.92" lengthAdjust="spacingAndGlyphs"><tspan font-style="italic">P</tspan> = 0.0071</text>
<text x="860.50" y="1670.00" font-size="28.8" transform="rotate(-90 860.50 1670.00)" textLength="122.10" lengthAdjust="spacingAndGlyphs"><tspan font-style="italic">P</tspan> = 0.014</text>
<text x="384.30" y="1663.40" font-size="28.8" text-anchor="middle" transform="rotate(-90 384.30 1663.40)" textLength="206.30" lengthAdjust="spacingAndGlyphs">Relative ΔpH<tspan font-size="18.5" dy="7">i</tspan><tspan dy="-7">/Δt</tspan></text>
<text x="542.90" y="1923.70" font-size="28.8" text-anchor="end" transform="rotate(-45 542.90 1923.70)" textLength="93.77" lengthAdjust="spacingAndGlyphs">Control</text>
<text x="630.30" y="1923.70" font-size="28.8" text-anchor="end" transform="rotate(-45 630.30 1923.70)" textLength="270.05" lengthAdjust="spacingAndGlyphs">Anti-NBCn1_EL3h_2</text>
<text x="716.50" y="1923.70" font-size="28.8" text-anchor="end" transform="rotate(-45 716.50 1923.70)" textLength="84.11" lengthAdjust="spacingAndGlyphs">S0859</text>
<text x="859.90" y="1923.70" font-size="28.8" text-anchor="end" transform="rotate(-45 859.90 1923.70)" textLength="93.77" lengthAdjust="spacingAndGlyphs">Control</text>
<defs>
<filter id="b6" x="-100%" y="-100%" width="300%" height="300%"><feGaussianBlur stdDeviation="4"/></filter>
<filter id="b12" x="-50%" y="-50%" width="200%" height="200%"><feGaussianBlur stdDeviation="10"/></filter>
<filter id="b3" x="-5%" y="-5%" width="110%" height="110%"><feGaussianBlur stdDeviation="1.6"/></filter>
<filter id="b20" x="-50%" y="-50%" width="200%" height="200%"><feGaussianBlur stdDeviation="13"/></filter>
<filter id="nz" x="0" y="0" width="100%" height="100%"><feTurbulence type="fractalNoise" baseFrequency="0.9" numOctaves="2" seed="7" result="t"/><feColorMatrix in="t" type="matrix" values="0 0 0 0 0.5  0 0 0 0 0.5  0 0 0 0 0.5  1.6 0 0 0 -0.55"/></filter>
<filter id="nzd" x="0" y="0" width="100%" height="100%"><feTurbulence type="fractalNoise" baseFrequency="0.9" numOctaves="2" seed="11" result="t"/><feColorMatrix in="t" type="matrix" values="0 0 0 0 0.08  0 0 0 0 0.08  0 0 0 0 0.08  1.6 0 0 0 -0.45"/></filter>
<radialGradient id="rg"><stop offset="0" stop-color="#fff" stop-opacity="1"/><stop offset="0.3" stop-color="#fff" stop-opacity="0.92"/><stop offset="0.55" stop-color="#fff" stop-opacity="0.5"/><stop offset="0.8" stop-color="#fff" stop-opacity="0.13"/><stop offset="1" stop-color="#fff" stop-opacity="0"/></radialGradient>
<filter id="mot" x="0" y="0" width="100%" height="100%"><feTurbulence type="fractalNoise" baseFrequency="0.05" numOctaves="2" seed="3" result="t"/><feColorMatrix in="t" type="matrix" values="0 0 0 0 0.15  0 0 0 0 0.15  0 0 0 0 0.15  2.2 0 0 0 -0.75"/></filter>
<filter id="nzw" x="0" y="0" width="100%" height="100%" color-interpolation-filters="sRGB"><feTurbulence type="fractalNoise" baseFrequency="0.55" numOctaves="3" seed="5"/><feColorMatrix type="matrix" values="0 0 0 0 1  0 0 0 0 1  0 0 0 0 1  0.7 0 0 0 -0.35"/></filter>
<filter id="nzb" x="0" y="0" width="100%" height="100%" color-interpolation-filters="sRGB"><feTurbulence type="fractalNoise" baseFrequency="0.55" numOctaves="3" seed="5"/><feColorMatrix type="matrix" values="0 0 0 0 0.1  0 0 0 0 0.1  0 0 0 0 0.1  -0.7 0 0 0 0.35"/></filter>
<filter id="mote" x="0" y="0" width="100%" height="100%" color-interpolation-filters="sRGB"><feTurbulence type="fractalNoise" baseFrequency="0.09" numOctaves="2" seed="9"/><feColorMatrix type="matrix" values="0 0 0 0 0.62  0 0 0 0 0.62  0 0 0 0 0.62  3 0 0 0 -1.1"/></filter>
<clipPath id="cd"><rect x="946" y="973.3" width="208.2" height="251.8"/></clipPath>
<clipPath id="ce"><rect x="57.2" y="1601.8" width="252.9" height="188.2"/></clipPath>
</defs>
<g clip-path="url(#cd)">
<rect x="945.00" y="972.00" width="211.00" height="255.00" fill="#2b2b2c" stroke="none" stroke-width="0"/>
<ellipse cx="1048.2" cy="1102.0" rx="77.9" ry="102.2" fill="#9a9a9c" filter="url(#b20)" transform="rotate(25 1048.2 1102.0)"/>
<ellipse cx="1048.2" cy="1102.0" rx="58.4" ry="80.3" fill="#b4b5b7" opacity="0.5" filter="url(#b12)" transform="rotate(25 1048.2 1102.0)"/>
<rect x="946" y="973" width="209" height="253" filter="url(#mot)" opacity="0.2"/>
<ellipse cx="955.7" cy="1008.3" rx="28.0" ry="28.0" fill="url(#rg)" opacity="0.75" transform="rotate(0 955.7 1008.3)"/>
<ellipse cx="1047.0" cy="1007.1" rx="21.9" ry="21.9" fill="url(#rg)" opacity="0.75" transform="rotate(0 1047.0 1007.1)"/>
<ellipse cx="1071.3" cy="1002.2" rx="13.4" ry="23.1" fill="url(#rg)" opacity="0.95" transform="rotate(10 1071.3 1002.2)"/>
<ellipse cx="1073.7" cy="1026.5" rx="14.6" ry="23.1" fill="url(#rg)" opacity="1.0" transform="rotate(20 1073.7 1026.5)"/>
<ellipse cx="1032.4" cy="1043.0" rx="18.2" ry="15.8" fill="url(#rg)" opacity="1.0" transform="rotate(0 1032.4 1043.0)"/>
<ellipse cx="1014.1" cy="1047.2" rx="14.6" ry="10.9" fill="url(#rg)" opacity="0.6" transform="rotate(0 1014.1 1047.2)"/>
<ellipse cx="1102.9" cy="1030.2" rx="18.2" ry="10.9" fill="url(#rg)" opacity="0.45" transform="rotate(-30 1102.9 1030.2)"/>
<ellipse cx="1124.8" cy="1022.9" rx="19.5" ry="14.6" fill="url(#rg)" opacity="0.4" transform="rotate(0 1124.8 1022.9)"/>
<ellipse cx="1089.6" cy="1069.1" rx="18.2" ry="18.2" fill="url(#rg)" opacity="1.0" transform="rotate(0 1089.6 1069.1)"/>
<ellipse cx="1101.7" cy="1056.9" rx="13.4" ry="13.4" fill="url(#rg)" opacity="0.7" transform="rotate(0 1101.7 1056.9)"/>
<ellipse cx="1111.5" cy="1076.4" rx="19.5" ry="17.0" fill="url(#rg)" opacity="1.0" transform="rotate(0 1111.5 1076.4)"/>
<ellipse cx="1122.4" cy="1070.3" rx="14.6" ry="14.6" fill="url(#rg)" opacity="1.0" transform="rotate(0 1122.4 1070.3)"/>
<ellipse cx="1128.5" cy="1093.4" rx="15.8" ry="21.9" fill="url(#rg)" opacity="0.9" transform="rotate(0 1128.5 1093.4)"/>
<ellipse cx="1127.3" cy="1114.1" rx="17.0" ry="19.5" fill="url(#rg)" opacity="0.65" transform="rotate(0 1127.3 1114.1)"/>
<ellipse cx="1107.8" cy="1131.2" rx="14.6" ry="21.9" fill="url(#rg)" opacity="0.5" transform="rotate(30 1107.8 1131.2)"/>
<ellipse cx="977.6" cy="1100.7" rx="24.3" ry="12.2" fill="url(#rg)" opacity="0.75" transform="rotate(-35 977.6 1100.7)"/>
<ellipse cx="966.7" cy="1134.8" rx="17.0" ry="13.4" fill="url(#rg)" opacity="0.55" transform="rotate(-40 966.7 1134.8)"/>
<ellipse cx="1012.9" cy="1128.7" rx="19.5" ry="19.5" fill="url(#rg)" opacity="0.45" transform="rotate(0 1012.9 1128.7)"/>
<ellipse cx="1049.4" cy="1110.5" rx="19.5" ry="12.2" fill="url(#rg)" opacity="0.35" transform="rotate(-30 1049.4 1110.5)"/>
<ellipse cx="992.2" cy="1162.8" rx="19.5" ry="19.5" fill="url(#rg)" opacity="0.4" transform="rotate(0 992.2 1162.8)"/>
<ellipse cx="1019.0" cy="1150.6" rx="17.0" ry="14.6" fill="url(#rg)" opacity="0.3" transform="rotate(0 1019.0 1150.6)"/>
<ellipse cx="1049.4" cy="1151.8" rx="12.2" ry="17.0" fill="url(#rg)" opacity="0.5" transform="rotate(0 1049.4 1151.8)"/>
<ellipse cx="1025.1" cy="1184.7" rx="21.9" ry="18.2" fill="url(#rg)" opacity="0.9" transform="rotate(0 1025.1 1184.7)"/>
<ellipse cx="1045.8" cy="1193.2" rx="21.9" ry="18.2" fill="url(#rg)" opacity="1.0" transform="rotate(0 1045.8 1193.2)"/>
<ellipse cx="1059.1" cy="1183.5" rx="20.7" ry="18.2" fill="url(#rg)" opacity="1.0" transform="rotate(0 1059.1 1183.5)"/>
<ellipse cx="1065.2" cy="1170.1" rx="12.2" ry="14.6" fill="url(#rg)" opacity="0.5" transform="rotate(0 1065.2 1170.1)"/>
<ellipse cx="1045.8" cy="1162.8" rx="9.7" ry="9.7" fill="url(#rg)" opacity="0.45" transform="rotate(0 1045.8 1162.8)"/>
<ellipse cx="1152.8" cy="1177.4" rx="12.2" ry="15.8" fill="url(#rg)" opacity="0.9" transform="rotate(0 1152.8 1177.4)"/>
<ellipse cx="987.4" cy="1069.1" rx="19.5" ry="9.7" fill="url(#rg)" opacity="0.25" transform="rotate(0 987.4 1069.1)"/>
<ellipse cx="1077.4" cy="1138.5" rx="19.5" ry="9.7" fill="url(#rg)" opacity="0.35" transform="rotate(10 1077.4 1138.5)"/>
<ellipse cx="1016.6" cy="1080.1" rx="19.5" ry="12.2" fill="url(#rg)" opacity="0.2" transform="rotate(0 1016.6 1080.1)"/>
<ellipse cx="1104.2" cy="1097.1" rx="17.0" ry="17.0" fill="url(#rg)" opacity="0.25" transform="rotate(0 1104.2 1097.1)"/>
<ellipse cx="1055.5" cy="1046.0" rx="19.5" ry="14.6" fill="url(#rg)" opacity="0.3" transform="rotate(0 1055.5 1046.0)"/>
<ellipse cx="1067.7" cy="1013.1" rx="12.2" ry="14.6" fill="url(#rg)" opacity="0.5" transform="rotate(0 1067.7 1013.1)"/>
<ellipse cx="1053.1" cy="1173.7" rx="14.6" ry="14.6" fill="url(#rg)" opacity="0.7" transform="rotate(0 1053.1 1173.7)"/>
</g>
<g clip-path="url(#ce)">
<rect x="56.00" y="1600.00" width="256.00" height="192.00" fill="#505051" stroke="none" stroke-width="0"/>
<rect x="57" y="1601" width="254" height="190" filter="url(#mote)" opacity="0.55"/>
<g filter="url(#b3)">
<ellipse cx="97.1" cy="1608.2" rx="8.2" ry="2.2" fill="#fff" opacity="0.64" transform="rotate(40 97.1 1608.2)"/>
<ellipse cx="104.2" cy="1622.5" rx="9.5" ry="3.1" fill="#fff" opacity="0.83" transform="rotate(50 104.2 1622.5)"/>
<ellipse cx="85.6" cy="1643.9" rx="6.8" ry="2.7" fill="#fff" opacity="0.83" transform="rotate(45 85.6 1643.9)"/>
<ellipse cx="68.4" cy="1636.8" rx="6.8" ry="4.0" fill="#fff" opacity="0.55" transform="rotate(80 68.4 1636.8)"/>
<ellipse cx="88.5" cy="1635.3" rx="6.8" ry="2.2" fill="#fff" opacity="0.55" transform="rotate(55 88.5 1635.3)"/>
<ellipse cx="125.7" cy="1611.0" rx="8.2" ry="2.2" fill="#fff" opacity="0.64" transform="rotate(40 125.7 1611.0)"/>
<ellipse cx="131.4" cy="1638.2" rx="6.8" ry="2.2" fill="#fff" opacity="0.64" transform="rotate(50 131.4 1638.2)"/>
<ellipse cx="125.7" cy="1653.9" rx="10.9" ry="3.1" fill="#fff" opacity="0.74" transform="rotate(50 125.7 1653.9)"/>
<ellipse cx="137.1" cy="1648.2" rx="9.5" ry="2.7" fill="#fff" opacity="0.64" transform="rotate(55 137.1 1648.2)"/>
<ellipse cx="148.6" cy="1611.0" rx="6.8" ry="2.7" fill="#fff" opacity="0.64" transform="rotate(40 148.6 1611.0)"/>
<ellipse cx="154.3" cy="1636.8" rx="8.2" ry="2.2" fill="#fff" opacity="0.74" transform="rotate(55 154.3 1636.8)"/>
<ellipse cx="148.6" cy="1645.4" rx="6.8" ry="1.8" fill="#fff" opacity="0.55" transform="rotate(55 148.6 1645.4)"/>
<ellipse cx="168.6" cy="1621.0" rx="5.4" ry="2.2" fill="#fff" opacity="0.46" transform="rotate(50 168.6 1621.0)"/>
<ellipse cx="175.8" cy="1642.5" rx="9.5" ry="2.2" fill="#fff" opacity="0.74" transform="rotate(55 175.8 1642.5)"/>
<ellipse cx="178.6" cy="1658.2" rx="6.8" ry="2.2" fill="#fff" opacity="0.55" transform="rotate(60 178.6 1658.2)"/>
<ellipse cx="167.2" cy="1669.7" rx="9.5" ry="2.2" fill="#fff" opacity="0.64" transform="rotate(60 167.2 1669.7)"/>
<ellipse cx="191.5" cy="1615.3" rx="10.9" ry="2.7" fill="#fff" opacity="0.83" transform="rotate(75 191.5 1615.3)"/>
<ellipse cx="185.8" cy="1619.6" rx="5.4" ry="2.7" fill="#fff" opacity="0.74" transform="rotate(0 185.8 1619.6)"/>
<ellipse cx="204.4" cy="1606.7" rx="4.8" ry="2.2" fill="#fff" opacity="0.74" transform="rotate(0 204.4 1606.7)"/>
<ellipse cx="88.5" cy="1662.5" rx="9.5" ry="2.2" fill="#fff" opacity="0.55" transform="rotate(20 88.5 1662.5)"/>
<ellipse cx="114.2" cy="1662.5" rx="9.5" ry="2.2" fill="#fff" opacity="0.55" transform="rotate(-10 114.2 1662.5)"/>
<ellipse cx="148.6" cy="1676.8" rx="6.8" ry="3.1" fill="#fff" opacity="0.55" transform="rotate(0 148.6 1676.8)"/>
<ellipse cx="109.9" cy="1688.3" rx="8.2" ry="3.5" fill="#fff" opacity="0.92" transform="rotate(-10 109.9 1688.3)"/>
<ellipse cx="188.7" cy="1679.7" rx="10.9" ry="4.4" fill="#fff" opacity="0.87" transform="rotate(-20 188.7 1679.7)"/>
<ellipse cx="203.0" cy="1664.0" rx="8.2" ry="2.7" fill="#fff" opacity="0.74" transform="rotate(45 203.0 1664.0)"/>
<ellipse cx="213.0" cy="1652.5" rx="6.8" ry="3.1" fill="#fff" opacity="0.64" transform="rotate(60 213.0 1652.5)"/>
<ellipse cx="214.4" cy="1633.9" rx="4.8" ry="3.5" fill="#fff" opacity="0.87" transform="rotate(0 214.4 1633.9)"/>
<ellipse cx="224.4" cy="1618.2" rx="3.4" ry="2.2" fill="#fff" opacity="0.83" transform="rotate(0 224.4 1618.2)"/>
<ellipse cx="240.2" cy="1619.6" rx="9.5" ry="3.1" fill="#fff" opacity="0.74" transform="rotate(35 240.2 1619.6)"/>
<ellipse cx="241.6" cy="1638.2" rx="9.5" ry="3.5" fill="#fff" opacity="0.78" transform="rotate(45 241.6 1638.2)"/>
<ellipse cx="231.6" cy="1648.2" rx="6.8" ry="3.1" fill="#fff" opacity="0.64" transform="rotate(60 231.6 1648.2)"/>
<ellipse cx="263.1" cy="1616.7" rx="8.2" ry="6.2" fill="#fff" opacity="0.92" transform="rotate(0 263.1 1616.7)"/>
<ellipse cx="275.9" cy="1606.7" rx="6.8" ry="2.7" fill="#fff" opacity="0.74" transform="rotate(0 275.9 1606.7)"/>
<ellipse cx="300.3" cy="1606.7" rx="9.5" ry="2.7" fill="#fff" opacity="0.74" transform="rotate(0 300.3 1606.7)"/>
<ellipse cx="280.2" cy="1638.2" rx="10.9" ry="2.7" fill="#fff" opacity="0.78" transform="rotate(20 280.2 1638.2)"/>
<ellipse cx="300.3" cy="1642.5" rx="9.5" ry="2.7" fill="#fff" opacity="0.83" transform="rotate(40 300.3 1642.5)"/>
<ellipse cx="306.0" cy="1632.5" rx="5.4" ry="2.7" fill="#fff" opacity="0.74" transform="rotate(-45 306.0 1632.5)"/>
<ellipse cx="261.6" cy="1653.9" rx="9.5" ry="4.0" fill="#fff" opacity="0.83" transform="rotate(45 261.6 1653.9)"/>
<ellipse cx="281.7" cy="1656.8" rx="12.2" ry="6.2" fill="#fff" opacity="0.92" transform="rotate(0 281.7 1656.8)"/>
<ellipse cx="306.0" cy="1669.7" rx="4.8" ry="5.3" fill="#fff" opacity="0.74" transform="rotate(0 306.0 1669.7)"/>
<ellipse cx="233.0" cy="1672.6" rx="9.5" ry="3.1" fill="#fff" opacity="0.78" transform="rotate(60 233.0 1672.6)"/>
<ellipse cx="247.3" cy="1672.6" rx="9.5" ry="3.1" fill="#fff" opacity="0.83" transform="rotate(65 247.3 1672.6)"/>
<ellipse cx="264.5" cy="1676.8" rx="6.8" ry="3.1" fill="#fff" opacity="0.64" transform="rotate(45 264.5 1676.8)"/>
<ellipse cx="228.7" cy="1689.7" rx="8.2" ry="3.1" fill="#fff" opacity="0.78" transform="rotate(45 228.7 1689.7)"/>
<ellipse cx="264.5" cy="1694.0" rx="5.4" ry="4.4" fill="#fff" opacity="0.69" transform="rotate(0 264.5 1694.0)"/>
<ellipse cx="288.8" cy="1686.9" rx="8.2" ry="3.5" fill="#fff" opacity="0.78" transform="rotate(-50 288.8 1686.9)"/>
<ellipse cx="300.3" cy="1694.0" rx="6.8" ry="2.7" fill="#fff" opacity="0.74" transform="rotate(-60 300.3 1694.0)"/>
<ellipse cx="291.7" cy="1702.6" rx="8.2" ry="2.7" fill="#fff" opacity="0.83" transform="rotate(-10 291.7 1702.6)"/>
<ellipse cx="284.5" cy="1712.6" rx="6.1" ry="2.7" fill="#fff" opacity="0.92" transform="rotate(0 284.5 1712.6)"/>
<ellipse cx="296.0" cy="1724.1" rx="6.8" ry="4.0" fill="#fff" opacity="0.87" transform="rotate(0 296.0 1724.1)"/>
<ellipse cx="182.9" cy="1698.3" rx="6.8" ry="6.2" fill="#fff" opacity="0.74" transform="rotate(0 182.9 1698.3)"/>
<ellipse cx="221.6" cy="1705.5" rx="9.5" ry="2.7" fill="#fff" opacity="0.74" transform="rotate(45 221.6 1705.5)"/>
<ellipse cx="211.6" cy="1712.6" rx="9.5" ry="3.5" fill="#fff" opacity="0.69" transform="rotate(45 211.6 1712.6)"/>
<ellipse cx="244.5" cy="1709.8" rx="8.2" ry="3.1" fill="#fff" opacity="0.64" transform="rotate(30 244.5 1709.8)"/>
<ellipse cx="261.6" cy="1711.2" rx="6.8" ry="2.7" fill="#fff" opacity="0.55" transform="rotate(45 261.6 1711.2)"/>
<ellipse cx="240.2" cy="1724.1" rx="6.8" ry="2.7" fill="#fff" opacity="0.55" transform="rotate(40 240.2 1724.1)"/>
<ellipse cx="203.0" cy="1721.2" rx="8.2" ry="2.7" fill="#fff" opacity="0.55" transform="rotate(30 203.0 1721.2)"/>
<ellipse cx="75.6" cy="1701.2" rx="6.8" ry="2.2" fill="#fff" opacity="0.46" transform="rotate(-30 75.6 1701.2)"/>
<ellipse cx="85.6" cy="1711.2" rx="8.2" ry="2.7" fill="#fff" opacity="0.51" transform="rotate(-30 85.6 1711.2)"/>
<ellipse cx="127.1" cy="1706.9" rx="10.9" ry="3.1" fill="#fff" opacity="0.60" transform="rotate(-10 127.1 1706.9)"/>
<ellipse cx="137.1" cy="1725.5" rx="8.2" ry="3.5" fill="#fff" opacity="0.60" transform="rotate(0 137.1 1725.5)"/>
<ellipse cx="160.0" cy="1719.8" rx="8.2" ry="3.1" fill="#fff" opacity="0.51" transform="rotate(30 160.0 1719.8)"/>
<ellipse cx="187.2" cy="1728.4" rx="9.5" ry="3.1" fill="#fff" opacity="0.92" transform="rotate(40 187.2 1728.4)"/>
<ellipse cx="215.8" cy="1732.7" rx="9.5" ry="2.2" fill="#fff" opacity="0.74" transform="rotate(25 215.8 1732.7)"/>
<ellipse cx="104.2" cy="1729.8" rx="6.8" ry="2.7" fill="#fff" opacity="0.46" transform="rotate(-30 104.2 1729.8)"/>
<ellipse cx="65.6" cy="1734.1" rx="8.2" ry="2.7" fill="#fff" opacity="0.46" transform="rotate(0 65.6 1734.1)"/>
<ellipse cx="117.1" cy="1738.4" rx="8.2" ry="2.7" fill="#fff" opacity="0.46" transform="rotate(0 117.1 1738.4)"/>
<ellipse cx="145.7" cy="1736.9" rx="6.8" ry="2.7" fill="#fff" opacity="0.55" transform="rotate(0 145.7 1736.9)"/>
<ellipse cx="162.9" cy="1744.1" rx="6.8" ry="2.7" fill="#fff" opacity="0.60" transform="rotate(0 162.9 1744.1)"/>
<ellipse cx="182.9" cy="1745.5" rx="6.8" ry="2.7" fill="#fff" opacity="0.55" transform="rotate(0 182.9 1745.5)"/>
<ellipse cx="200.1" cy="1742.7" rx="6.8" ry="2.2" fill="#fff" opacity="0.55" transform="rotate(30 200.1 1742.7)"/>
<ellipse cx="237.3" cy="1744.1" rx="6.8" ry="3.5" fill="#fff" opacity="0.78" transform="rotate(45 237.3 1744.1)"/>
<ellipse cx="275.9" cy="1739.8" rx="8.2" ry="3.1" fill="#fff" opacity="0.83" transform="rotate(40 275.9 1739.8)"/>
<ellipse cx="257.3" cy="1745.5" rx="5.4" ry="2.7" fill="#fff" opacity="0.46" transform="rotate(0 257.3 1745.5)"/>
<ellipse cx="142.9" cy="1749.8" rx="8.2" ry="2.7" fill="#fff" opacity="0.64" transform="rotate(20 142.9 1749.8)"/>
<ellipse cx="213.0" cy="1757.0" rx="8.2" ry="3.1" fill="#fff" opacity="0.74" transform="rotate(10 213.0 1757.0)"/>
<ellipse cx="185.8" cy="1759.8" rx="6.8" ry="3.1" fill="#fff" opacity="0.60" transform="rotate(0 185.8 1759.8)"/>
<ellipse cx="72.7" cy="1762.7" rx="8.2" ry="3.5" fill="#fff" opacity="0.51" transform="rotate(0 72.7 1762.7)"/>
<ellipse cx="131.4" cy="1764.1" rx="9.5" ry="2.7" fill="#fff" opacity="0.64" transform="rotate(-20 131.4 1764.1)"/>
<ellipse cx="164.3" cy="1765.6" rx="6.8" ry="3.5" fill="#fff" opacity="0.55" transform="rotate(-30 164.3 1765.6)"/>
<ellipse cx="182.9" cy="1768.4" rx="8.2" ry="2.7" fill="#fff" opacity="0.78" transform="rotate(0 182.9 1768.4)"/>
<ellipse cx="218.7" cy="1775.6" rx="10.9" ry="2.7" fill="#fff" opacity="0.87" transform="rotate(-10 218.7 1775.6)"/>
<ellipse cx="225.9" cy="1782.7" rx="6.8" ry="2.2" fill="#fff" opacity="0.74" transform="rotate(0 225.9 1782.7)"/>
<ellipse cx="258.8" cy="1771.3" rx="6.1" ry="6.2" fill="#fff" opacity="0.78" transform="rotate(10 258.8 1771.3)"/>
<ellipse cx="294.6" cy="1762.7" rx="9.5" ry="2.7" fill="#fff" opacity="0.78" transform="rotate(-10 294.6 1762.7)"/>
<ellipse cx="288.8" cy="1779.9" rx="5.4" ry="2.7" fill="#fff" opacity="0.55" transform="rotate(0 288.8 1779.9)"/>
<ellipse cx="243.0" cy="1762.7" rx="8.2" ry="2.7" fill="#fff" opacity="0.46" transform="rotate(0 243.0 1762.7)"/>
<ellipse cx="99.9" cy="1781.3" rx="8.2" ry="2.7" fill="#fff" opacity="0.41" transform="rotate(0 99.9 1781.3)"/>
<ellipse cx="81.3" cy="1772.7" rx="6.8" ry="2.7" fill="#fff" opacity="0.41" transform="rotate(0 81.3 1772.7)"/>
<ellipse cx="148.6" cy="1778.4" rx="6.8" ry="2.7" fill="#fff" opacity="0.41" transform="rotate(0 148.6 1778.4)"/>
<ellipse cx="197.2" cy="1782.7" rx="6.8" ry="2.2" fill="#fff" opacity="0.46" transform="rotate(0 197.2 1782.7)"/>
<ellipse cx="268.8" cy="1755.6" rx="5.4" ry="2.7" fill="#fff" opacity="0.46" transform="rotate(0 268.8 1755.6)"/>
<ellipse cx="306.0" cy="1744.1" rx="5.4" ry="3.5" fill="#fff" opacity="0.46" transform="rotate(0 306.0 1744.1)"/>
<ellipse cx="307.4" cy="1701.2" rx="4.1" ry="4.4" fill="#fff" opacity="0.64" transform="rotate(0 307.4 1701.2)"/>
</g>
<rect x="57" y="1601" width="254" height="190" filter="url(#nzw)"/>
<rect x="57" y="1601" width="254" height="190" filter="url(#nzb)"/>
</g>
</svg>
</body></html>
